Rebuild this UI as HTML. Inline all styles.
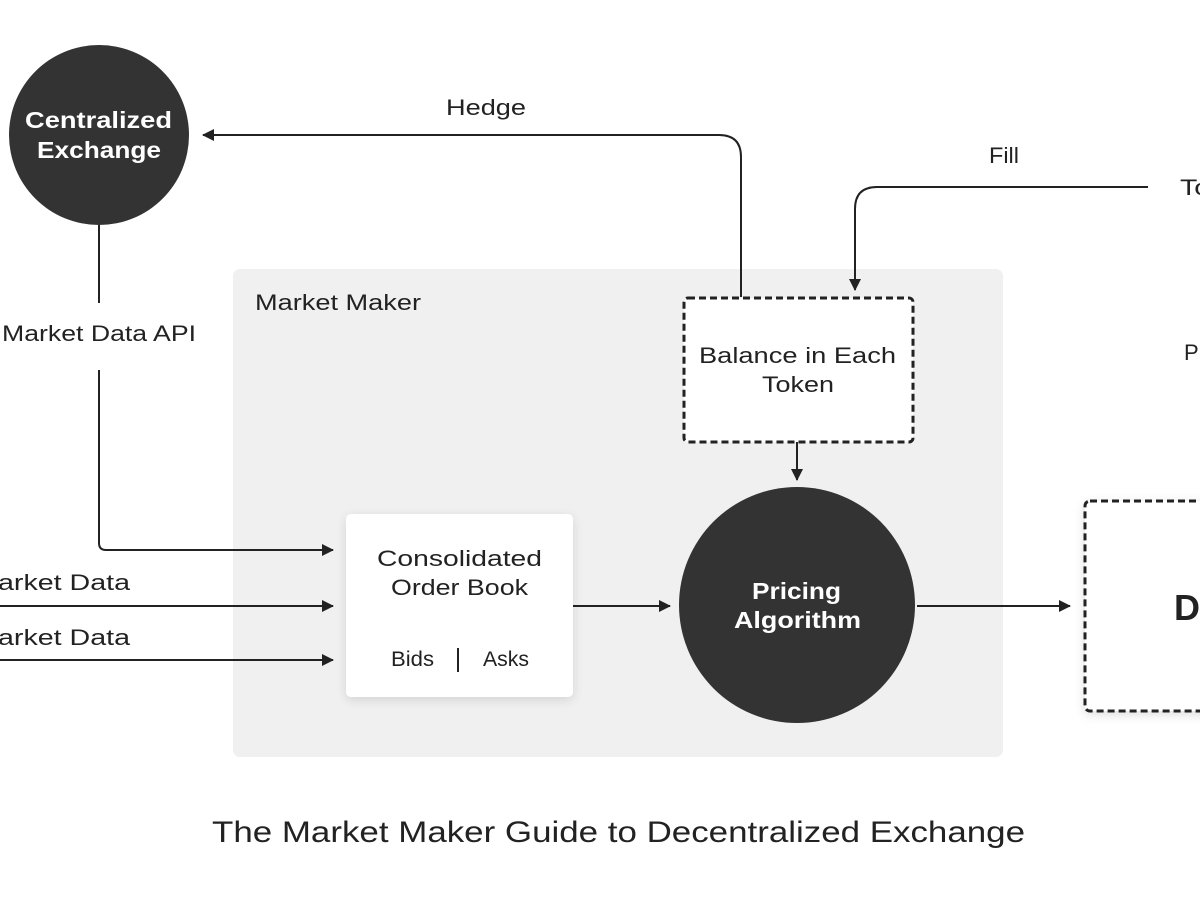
<!DOCTYPE html>
<html><head><meta charset="utf-8"><style>
html,body{margin:0;padding:0;background:#fff;}
svg{display:block;font-family:"Liberation Sans",sans-serif;}
</style></head><body>
<svg width="1200" height="900" viewBox="0 0 1200 900">
<defs>
<marker id="a" markerWidth="12" markerHeight="12" refX="11" refY="6" orient="auto" markerUnits="userSpaceOnUse"><path d="M0,0 L12,6 L0,12 z" fill="#222"/></marker>
<filter id="s" x="-20%" y="-20%" width="140%" height="140%"><feDropShadow dx="0" dy="3" stdDeviation="5" flood-opacity="0.12"/></filter>
</defs>
<rect width="1200" height="900" fill="#fff"/>
<rect x="233" y="269" width="770" height="488" rx="7" fill="#f0f0f0"/>
<text x="255" y="310" font-size="22" fill="#222" textLength="166" lengthAdjust="spacingAndGlyphs">Market Maker</text>

<circle cx="99" cy="135" r="90" fill="#333"/>
<text x="25" y="128" font-size="23" font-weight="bold" fill="#fff" textLength="147" lengthAdjust="spacingAndGlyphs">Centralized</text>
<text x="37" y="158" font-size="23" font-weight="bold" fill="#fff" textLength="124" lengthAdjust="spacingAndGlyphs">Exchange</text>

<g stroke="#222" stroke-width="2" fill="none">
<line x1="99" y1="225" x2="99" y2="303"/>
<path d="M99,370 V543 Q99,550 106,550 H333" marker-end="url(#a)"/>
<path d="M741,297 V157 Q741,135 719,135 H203" marker-end="url(#a)"/>
<path d="M1148,187 H877 Q855,187 855,209 V290" marker-end="url(#a)"/>
<line x1="797" y1="442" x2="797" y2="480" marker-end="url(#a)"/>
<line x1="0" y1="606" x2="333" y2="606" marker-end="url(#a)"/>
<line x1="0" y1="660" x2="333" y2="660" marker-end="url(#a)"/>
<line x1="573" y1="606" x2="670" y2="606" marker-end="url(#a)"/>
<line x1="917" y1="606" x2="1070" y2="606" marker-end="url(#a)"/>
</g>
<text x="2" y="341" font-size="22" fill="#222" textLength="194" lengthAdjust="spacingAndGlyphs">Market Data API</text>
<text x="446" y="115" font-size="22" fill="#222" textLength="80" lengthAdjust="spacingAndGlyphs">Hedge</text>
<text x="989" y="163" font-size="22" fill="#222" textLength="30" lengthAdjust="spacingAndGlyphs">Fill</text>
<text x="1180" y="195" font-size="22" fill="#222" textLength="30" lengthAdjust="spacingAndGlyphs">To</text>
<text x="1184" y="360" font-size="22" fill="#222">P</text>
<text x="-2" y="590" font-size="22" fill="#222" textLength="132" lengthAdjust="spacingAndGlyphs">arket Data</text>
<text x="-2" y="645" font-size="22" fill="#222" textLength="132" lengthAdjust="spacingAndGlyphs">arket Data</text>

<rect x="684" y="298" width="229" height="144" rx="4" fill="#fff" stroke="#222" stroke-width="3" stroke-dasharray="7,4"/>
<text x="699" y="363" font-size="22" fill="#222" textLength="197" lengthAdjust="spacingAndGlyphs">Balance in Each</text>
<text x="762" y="392" font-size="22" fill="#222" textLength="72" lengthAdjust="spacingAndGlyphs">Token</text>

<rect x="346" y="514" width="227" height="183" rx="5" fill="#fff" filter="url(#s)"/>
<text x="377" y="566" font-size="22" fill="#222" textLength="165" lengthAdjust="spacingAndGlyphs">Consolidated</text>
<text x="391" y="595" font-size="22" fill="#222" textLength="137" lengthAdjust="spacingAndGlyphs">Order Book</text>
<text x="391" y="666" font-size="21" fill="#222" textLength="43" lengthAdjust="spacingAndGlyphs">Bids</text>
<line x1="458" y1="648" x2="458" y2="672" stroke="#222" stroke-width="2"/>
<text x="483" y="666" font-size="21" fill="#222" textLength="46" lengthAdjust="spacingAndGlyphs">Asks</text>

<circle cx="797" cy="605" r="118" fill="#333"/>
<text x="752" y="599" font-size="23" font-weight="bold" fill="#fff" textLength="89" lengthAdjust="spacingAndGlyphs">Pricing</text>
<text x="734" y="628" font-size="23" font-weight="bold" fill="#fff" textLength="127" lengthAdjust="spacingAndGlyphs">Algorithm</text>

<rect x="1085" y="501" width="140" height="210" rx="5" fill="#fff" stroke="#222" stroke-width="3" stroke-dasharray="7,4" filter="url(#s)"/>
<text x="1174" y="620" font-size="36" font-weight="bold" fill="#222">D</text>

<text x="212" y="842" font-size="30" fill="#222" textLength="813" lengthAdjust="spacingAndGlyphs">The Market Maker Guide to Decentralized Exchange</text>
</svg>
</body></html>
